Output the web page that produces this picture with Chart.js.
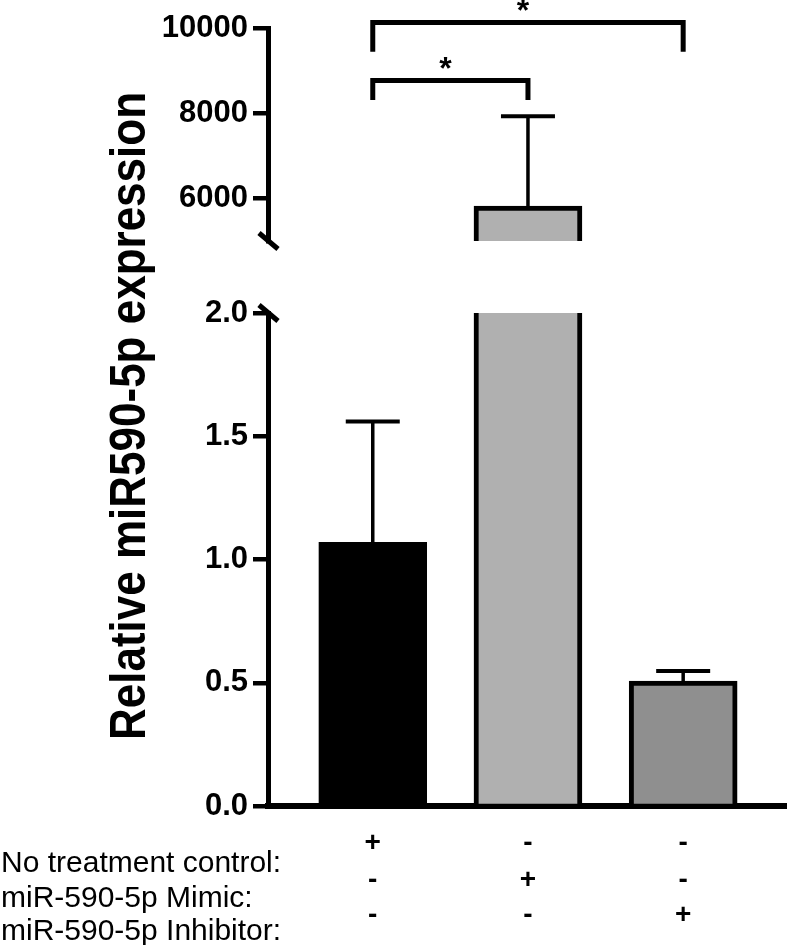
<!DOCTYPE html>
<html>
<head>
<meta charset="utf-8">
<script src="https://cdn.jsdelivr.net/npm/chart.js@4"></script>
<style>
  html, body { margin: 0; padding: 0; background: #ffffff; }
  #wrap { position: relative; width: 787px; height: 945px; }
  .layer { position: absolute; left: 0; top: 0; width: 787px; height: 945px; }
</style>
</head>
<body>
<div id="wrap">
  <div class="layer"><canvas id="lower"></canvas></div>
  <div class="layer"><canvas id="upper"></canvas></div>
</div>
<script>
// ---------- data ----------
const categories = ['No treatment control', 'miR-590-5p Mimic', 'miR-590-5p Inhibitor'];
const means = [1.07, 5820, 0.507];
const sds = [0.49, 2110, 0.041];
const barColors = ['#000000', '#b0b0b0', '#8f8f8f'];
const lowerTicks = [0, 0.5, 1.0, 1.5, 2.0];
const upperTicks = [6000, 8000, 10000];
const rowLabels = ['No treatment control:', 'miR-590-5p Mimic:', 'miR-590-5p Inhibitor:'];
const treatmentTable = [
  ['+', '-', '-'],
  ['-', '+', '-'],
  ['-', '-', '+']
];
const brackets = [
  { from: 0, to: 2, y: 10130, leg: 9440, label: '*' },
  { from: 0, to: 1, y: 8770, leg: 8310, label: '*' }
];
const yTitle = 'Relative miR590-5p expression';

// ---------- style / layout ----------
const FONT = "'Liberation Sans', Arial, Helvetica, sans-serif";
const W = 787, H = 945;
const AXIS_X = 268;
const X_MIN = -0.675, X_MAX = 2.669;

const points = means.map((m, i) => ({ x: i, y: m }));

function errorBarPlugin(id) {
  return {
    id: id,
    afterDatasetsDraw(chart) {
      const ctx = chart.ctx, xs = chart.scales.x, ys = chart.scales.y, a = chart.chartArea;
      ctx.save();
      ctx.beginPath();
      ctx.rect(a.left, a.top - 1, a.right - a.left, a.bottom - a.top + 2);
      ctx.clip();
      ctx.strokeStyle = '#000';
      means.forEach((m, i) => {
        const x = xs.getPixelForValue(i);
        const y0 = ys.getPixelForValue(m);
        const y1 = ys.getPixelForValue(m + sds[i]);
        ctx.lineWidth = 3.5;
        ctx.beginPath(); ctx.moveTo(x, y0); ctx.lineTo(x, y1); ctx.stroke();
        ctx.lineWidth = 4;
        ctx.beginPath(); ctx.moveTo(x - 27, y1); ctx.lineTo(x + 27, y1); ctx.stroke();
      });
      ctx.restore();
    }
  };
}

function breakPlugin(id, atBottom) {
  return {
    id: id,
    afterDraw(chart) {
      const ctx = chart.ctx, a = chart.chartArea;
      const x = a.left, y = atBottom ? a.bottom : a.top;
      ctx.save();
      ctx.strokeStyle = '#000';
      ctx.lineWidth = 5;
      ctx.beginPath();
      ctx.moveTo(x - 9, y - 8);
      ctx.lineTo(x + 10, y + 8);
      ctx.stroke();
      ctx.restore();
    }
  };
}

const bracketPlugin = {
  id: 'brackets',
  afterDraw(chart) {
    const ctx = chart.ctx, xs = chart.scales.x, ys = chart.scales.y;
    ctx.save();
    ctx.strokeStyle = '#000';
    ctx.fillStyle = '#000';
    ctx.lineWidth = 5;
    ctx.lineJoin = 'miter';
    ctx.lineCap = 'butt';
    brackets.forEach(b => {
      const x1 = xs.getPixelForValue(b.from), x2 = xs.getPixelForValue(b.to);
      const y = ys.getPixelForValue(b.y), yl = ys.getPixelForValue(b.leg);
      ctx.beginPath();
      ctx.moveTo(x1, yl); ctx.lineTo(x1, y); ctx.lineTo(x2, y); ctx.lineTo(x2, yl);
      ctx.stroke();
      ctx.font = 'bold 32px ' + FONT;
      ctx.textAlign = 'center';
      ctx.textBaseline = 'alphabetic';
      ctx.fillText(b.label, (x1 + x2) / 2 - 5, y - 1);
    });
    ctx.restore();
  }
};

const tablePlugin = {
  id: 'table',
  afterDraw(chart) {
    const ctx = chart.ctx, xs = chart.scales.x;
    ctx.save();
    ctx.fillStyle = '#000';
    // row labels
    const labelBase = [872, 907, 940];
    ctx.font = '30px ' + FONT;
    ctx.textAlign = 'left';
    ctx.textBaseline = 'alphabetic';
    rowLabels.forEach((t, r) => ctx.fillText(t, 1, labelBase[r]));
    // +/- signs
    const signY = [843, 880, 915];
    ctx.font = 'bold 28px ' + FONT;
    ctx.textAlign = 'center';
    ctx.textBaseline = 'middle';
    treatmentTable.forEach((row, r) => {
      row.forEach((s, i) => ctx.fillText(s, xs.getPixelForValue(i), signY[r]));
    });
    // y axis title
    ctx.translate(145, 416);
    ctx.rotate(-Math.PI / 2);
    ctx.scale(1, 1.12);
    ctx.font = 'bold 44px ' + FONT;
    ctx.textAlign = 'center';
    ctx.textBaseline = 'alphabetic';
    ctx.fillText(yTitle, 0, 0);
    ctx.restore();
  }
};

function yScaleOpts(min, max, tickList, fmt) {
  return {
    type: 'linear',
    min: min, max: max,
    afterBuildTicks: (s) => { s.ticks = tickList.map(v => ({ value: v })); },
    afterFit: (s) => { s.width = AXIS_X; },
    border: { display: true, color: '#000', width: 5 },
    grid: { display: true, drawOnChartArea: false, drawTicks: true, tickLength: 15, tickWidth: 4.5, tickColor: '#000', color: '#000', lineWidth: 4.5 },
    ticks: {
      color: '#000',
      padding: 5,
      font: { family: FONT, size: 31, weight: 'bold' },
      callback: fmt
    }
  };
}

function dataset() {
  return {
    data: points,
    backgroundColor: barColors,
    borderColor: '#000',
    borderWidth: 5,
    borderSkipped: 'start',
    barThickness: 108,
    clip: 0
  };
}

const common = {
  responsive: true,
  maintainAspectRatio: false,
  animation: false,
  events: [],
  plugins: { legend: { display: false }, tooltip: { enabled: false }, title: { display: false } }
};

// lower segment (0 - 2)
new Chart(document.getElementById('lower'), {
  type: 'bar',
  data: { labels: categories, datasets: [dataset()] },
  options: Object.assign({}, common, {
    layout: { padding: { left: 0, right: 0, top: 313, bottom: H - 806 } },
    scales: {
      x: {
        type: 'linear', min: X_MIN, max: X_MAX, offset: false, z: 1,
        afterFit: (s) => { s.height = 0; },
        ticks: { display: false },
        grid: { display: false, drawTicks: false },
        border: { display: true, color: '#000', width: 6 }
      },
      y: yScaleOpts(0, 2, lowerTicks, (v) => Number(v).toFixed(1))
    }
  }),
  plugins: [errorBarPlugin('errLower'), breakPlugin('breakLower', false), tablePlugin]
});

// upper segment (5000 - 10000)
new Chart(document.getElementById('upper'), {
  type: 'bar',
  data: { labels: categories, datasets: [dataset()] },
  options: Object.assign({}, common, {
    layout: { padding: { left: 0, right: 0, top: 28, bottom: H - 241 } },
    scales: {
      x: {
        type: 'linear', min: X_MIN, max: X_MAX, offset: false, display: false
      },
      y: yScaleOpts(5000, 10000, upperTicks, (v) => String(v))
    }
  }),
  plugins: [errorBarPlugin('errUpper'), breakPlugin('breakUpper', true), bracketPlugin]
});
</script>
</body>
</html>
